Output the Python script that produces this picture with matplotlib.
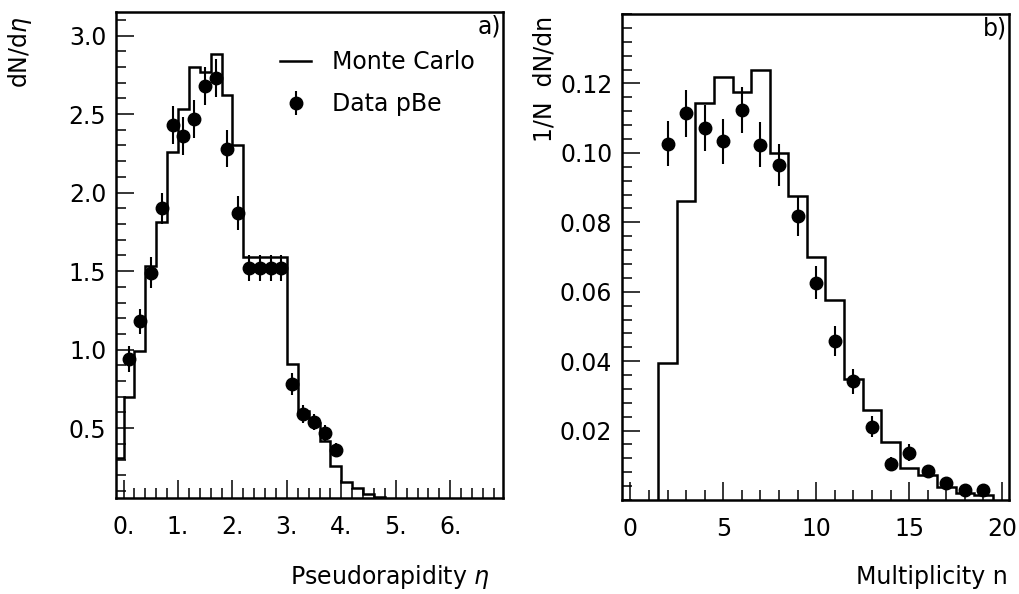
import numpy as np
import matplotlib
matplotlib.use('Agg')
import matplotlib.pyplot as plt
from matplotlib.ticker import MultipleLocator, FixedLocator

# --- panel a) pseudorapidity ---
eta_edges = np.round(np.arange(-0.2, 4.81, 0.2), 1)
mc_eta = [0.31, 0.70, 0.99, 1.53, 1.81, 2.26, 2.53, 2.80, 2.77, 2.88, 2.62, 2.30,
          1.59, 1.59, 1.59, 1.59, 0.91, 0.61, 0.53, 0.42, 0.26, 0.16, 0.12, 0.08, 0.06]
eta_pts = np.round(np.arange(0.1, 4.0, 0.2), 1)
data_eta = [0.94, 1.18, 1.49, 1.90, 2.43, 2.36, 2.47, 2.68, 2.73, 2.28,
            1.87, 1.52, 1.52, 1.52, 1.52, 0.78, 0.59, 0.54, 0.47, 0.36]
err_eta = [0.08, 0.08, 0.10, 0.10, 0.12, 0.12, 0.12, 0.12, 0.12, 0.12,
           0.11, 0.08, 0.08, 0.08, 0.08, 0.07, 0.055, 0.05, 0.05, 0.045]
eta_ticks = [0, 1, 2, 3, 4, 5, 6]
eta_ticklabels = ['0.', '1.', '2.', '3.', '4.', '5.', '6.']
dnde_ticks = [0.5, 1.0, 1.5, 2.0, 2.5, 3.0]

# --- panel b) multiplicity ---
n_edges = np.arange(1.5, 19.6, 1.0)
mc_n = [0.0395, 0.086, 0.1145, 0.122, 0.1175, 0.124, 0.100, 0.0875, 0.070,
        0.0575, 0.035, 0.026, 0.0167, 0.0092, 0.0073, 0.0038, 0.002, 0.0015]
n_pts = np.arange(2, 20)
data_n = [0.1027, 0.1114, 0.1071, 0.1033, 0.1124, 0.1024, 0.0965, 0.0817, 0.0626,
          0.0458, 0.0342, 0.0211, 0.0105, 0.0136, 0.0084, 0.0050, 0.0028, 0.0028]
err_n = [0.0064, 0.0067, 0.0067, 0.0066, 0.0066, 0.0064, 0.0061, 0.0055, 0.0047,
         0.0043, 0.0036, 0.0030, 0.0020, 0.0025, 0.0015, 0.0010, 0.0008, 0.0008]
n_ticks = [0, 5, 10, 15, 20]
prob_ticks = [0.02, 0.04, 0.06, 0.08, 0.10, 0.12]

fs = 17
plt.rcParams['font.family'] = 'DejaVu Sans'
fig = plt.figure(figsize=(10.19, 5.94), dpi=100)
ax1 = fig.add_axes([0.1138, 0.1616, 0.3798, 0.8182])
ax2 = fig.add_axes([0.6104, 0.1582, 0.3793, 0.8182])

for ax in (ax1, ax2):
    for s in ax.spines.values():
        s.set_linewidth(1.8)
    ax.tick_params(which='both', direction='in', top=False, right=False,
                   labelsize=fs, width=1.1)
    ax.tick_params(which='major', length=13, pad=7)
    ax.tick_params(which='minor', length=7)
    ax.tick_params(axis='x', pad=12)

# left
ax1.stairs(mc_eta, eta_edges, color='k', lw=1.8, label='Monte Carlo')
ax1.errorbar(eta_pts, data_eta, yerr=err_eta, fmt='o', color='k', ms=9,
             elinewidth=1.5, capsize=0, label='Data pBe')
ax1.set_xlim(-0.14, 6.97)
ax1.set_ylim(0.055, 3.15)
ax1.xaxis.set_major_locator(FixedLocator(eta_ticks))
ax1.set_xticklabels(eta_ticklabels)
ax1.xaxis.set_minor_locator(MultipleLocator(0.2))
ax1.yaxis.set_major_locator(FixedLocator(dnde_ticks))
ax1.set_yticklabels(['%.1f' % v for v in dnde_ticks])
ax1.yaxis.set_minor_locator(MultipleLocator(0.1))
ax1.legend(loc='upper left', bbox_to_anchor=(0.37, 0.965), frameon=False,
           fontsize=fs, handlelength=1.3, handletextpad=0.9, labelspacing=0.75)
ax1.text(0.995, 0.995, 'a)', transform=ax1.transAxes, ha='right', va='top', fontsize=fs)

# right
ax2.stairs(mc_n, n_edges, color='k', lw=1.8)
ax2.errorbar(n_pts, data_n, yerr=err_n, fmt='o', color='k', ms=9,
             elinewidth=1.5, capsize=0)
ax2.set_xlim(-0.45, 20.35)
ax2.set_ylim(0, 0.14)
ax2.xaxis.set_major_locator(FixedLocator(n_ticks))
ax2.xaxis.set_minor_locator(MultipleLocator(1))
ax2.yaxis.set_major_locator(FixedLocator(prob_ticks))
ax2.set_yticklabels(['%.2f' % v for v in prob_ticks])
ax2.yaxis.set_minor_locator(MultipleLocator(0.004))
ax2.text(0.995, 0.995, 'b)', transform=ax2.transAxes, ha='right', va='top', fontsize=fs)

# axis titles
fig.text(20 / 1019, 1 - 16 / 594, r'dN/d$\eta$', rotation=90, ha='center', va='top', fontsize=fs)
fig.text(545 / 1019, 1 - 16 / 594, '1/N  dN/dn', rotation=90, ha='center', va='top', fontsize=fs)
fig.text(490 / 1019, 1 - 577 / 594, r'Pseudorapidity $\eta$', ha='right', va='center', fontsize=fs)
fig.text(1008 / 1019, 1 - 577 / 594, 'Multiplicity n', ha='right', va='center', fontsize=fs)

fig.savefig('out.png', dpi=100)
